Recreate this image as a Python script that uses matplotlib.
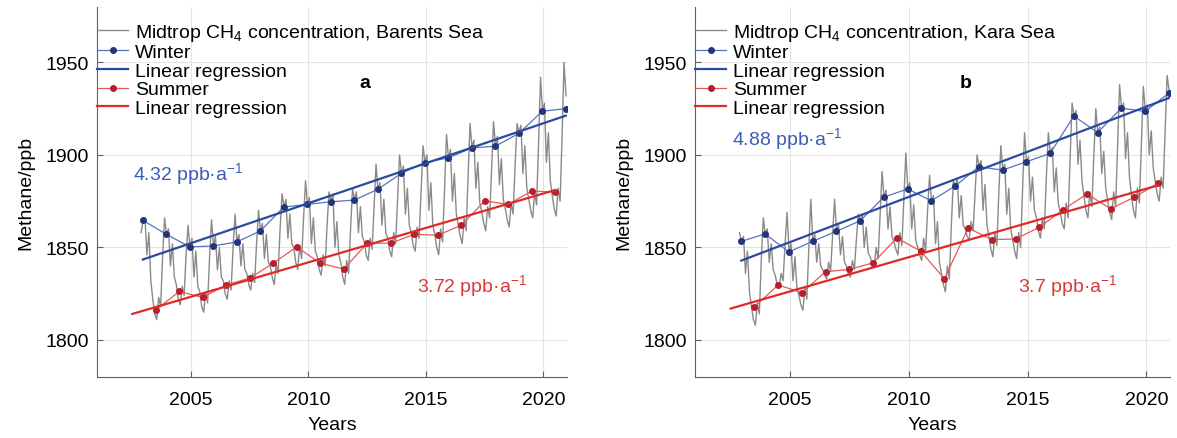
import matplotlib.pyplot as plt
import numpy as np

plt.rcParams['font.family'] = ['Liberation Sans', 'DejaVu Sans']
plt.rcParams['mathtext.fontset'] = 'custom'
plt.rcParams['mathtext.rm'] = 'Liberation Sans'
plt.rcParams['mathtext.it'] = 'Liberation Sans:italic'
plt.rcParams['font.size'] = 14

# Monthly midtroposphere CH4 (ppb), Nov 2002 - Dec 2020, one row per year
barents_monthly = [
    1858, 1864,
    1866, 1846, 1858, 1832, 1822, 1814, 1811, 1823, 1818, 1845, 1866, 1857,
    1860, 1840, 1852, 1834, 1830, 1822, 1819, 1829, 1824, 1846, 1862, 1850,
    1855, 1834, 1848, 1829, 1826, 1818, 1815, 1826, 1820, 1845, 1865, 1851,
    1856, 1838, 1850, 1834, 1832, 1825, 1822, 1832, 1827, 1850, 1868, 1853,
    1857, 1840, 1852, 1838, 1836, 1830, 1827, 1836, 1831, 1852, 1870, 1859,
    1863, 1844, 1857, 1842, 1840, 1834, 1830, 1841, 1836, 1860, 1879, 1872,
    1876, 1855, 1868, 1852, 1850, 1842, 1838, 1851, 1844, 1866, 1886, 1873,
    1877, 1852, 1866, 1848, 1845, 1838, 1835, 1846, 1840, 1862, 1880, 1875,
    1879, 1850, 1864, 1846, 1842, 1834, 1830, 1843, 1836, 1860, 1882, 1876,
    1880, 1858, 1872, 1856, 1853, 1846, 1843, 1855, 1849, 1872, 1895, 1881,
    1885, 1862, 1876, 1858, 1855, 1848, 1845, 1858, 1852, 1876, 1900, 1890,
    1894, 1868, 1882, 1862, 1858, 1851, 1848, 1861, 1855, 1880, 1905, 1896,
    1900, 1870, 1885, 1862, 1857, 1850, 1846, 1860, 1853, 1882, 1911, 1898,
    1903, 1875, 1890, 1868, 1862, 1856, 1852, 1866, 1859, 1888, 1917, 1904,
    1908, 1882, 1896, 1874, 1869, 1863, 1859, 1872, 1866, 1892, 1918, 1905,
    1910, 1884, 1898, 1876, 1871, 1865, 1861, 1874, 1868, 1894, 1917, 1912,
    1916, 1890, 1905, 1882, 1876, 1870, 1866, 1880, 1873, 1906, 1942, 1924,
    1928, 1896, 1912, 1886, 1878, 1871, 1867, 1882, 1875, 1910, 1950, 1932,
]
kara_monthly = [
    1858, 1853,
    1856, 1836, 1848, 1826, 1818, 1811, 1808, 1820, 1814, 1844, 1866, 1857,
    1860, 1842, 1852, 1838, 1835, 1830, 1828, 1836, 1832, 1852, 1869, 1848,
    1852, 1832, 1845, 1828, 1824, 1819, 1816, 1828, 1822, 1850, 1876, 1853,
    1857, 1842, 1852, 1840, 1838, 1835, 1833, 1842, 1837, 1856, 1876, 1859,
    1862, 1846, 1856, 1842, 1840, 1836, 1834, 1843, 1838, 1854, 1868, 1864,
    1868, 1850, 1861, 1847, 1845, 1841, 1839, 1850, 1844, 1868, 1891, 1877,
    1881, 1860, 1872, 1856, 1853, 1849, 1846, 1858, 1851, 1876, 1901, 1882,
    1885, 1860, 1873, 1854, 1850, 1846, 1843, 1855, 1848, 1870, 1889, 1875,
    1878, 1852, 1864, 1842, 1836, 1830, 1826, 1840, 1833, 1862, 1886, 1883,
    1887, 1866, 1878, 1862, 1860, 1856, 1854, 1864, 1859, 1880, 1900, 1894,
    1897, 1870, 1884, 1862, 1856, 1849, 1845, 1858, 1851, 1880, 1905, 1892,
    1895, 1868, 1882, 1860, 1854, 1848, 1844, 1858, 1850, 1882, 1912, 1896,
    1899, 1875, 1888, 1870, 1866, 1859, 1855, 1866, 1860, 1888, 1912, 1901,
    1904, 1880, 1893, 1874, 1869, 1863, 1860, 1874, 1866, 1898, 1928, 1921,
    1924, 1895, 1908, 1886, 1878, 1870, 1866, 1880, 1872, 1900, 1925, 1912,
    1915, 1890, 1902, 1882, 1875, 1869, 1865, 1880, 1872, 1905, 1938, 1925,
    1928, 1898, 1912, 1888, 1878, 1870, 1866, 1882, 1874, 1906, 1937, 1924,
    1927, 1900, 1913, 1893, 1886, 1879, 1875, 1888, 1882, 1912, 1943, 1935,
]

# Seasonal means: winter plotted in December, summer at mid-year
winter_years = list(range(2002, 2021))
summer_years = list(range(2003, 2021))

barents_winter = [1864.7, 1857.1, 1850.3, 1850.8, 1853.0, 1858.9, 1871.8,
                  1873.3, 1874.7, 1875.6, 1881.4, 1890.0, 1895.9, 1898.4,
                  1903.8, 1904.7, 1911.6, 1923.6, 1925.0]
barents_summer = [1816.2, 1826.2, 1823.0, 1829.8, 1833.4, 1841.5, 1850.3,
                  1841.5, 1838.3, 1852.3, 1852.3, 1857.1, 1856.6, 1862.0,
                  1875.1, 1873.3, 1880.5, 1879.9]
kara_winter = [1853.3, 1857.3, 1847.6, 1853.3, 1858.7, 1864.4, 1877.2,
               1881.6, 1875.2, 1883.2, 1893.6, 1891.8, 1896.3, 1900.8,
               1921.0, 1912.1, 1925.3, 1923.5, 1933.4]
kara_summer = [1817.9, 1829.7, 1825.6, 1836.9, 1838.1, 1841.7, 1855.1,
               1848.0, 1833.1, 1860.5, 1854.2, 1854.6, 1860.9, 1870.4,
               1878.9, 1870.9, 1877.2, 1884.7]

# Trend slopes, ppb per year
barents_trends = (4.32, 3.72)
kara_trends = (4.88, 3.7)

GRAY = '#8a8a8a'
WINTER_LINE = '#5573c4'
WINTER_DOT = '#22357a'
WINTER_FIT = '#2b4a9e'
SUMMER_LINE = '#e35a5a'
SUMMER_DOT = '#b81e2c'
SUMMER_FIT = '#e02a2a'


def trend_line(x, y, slope, x_ends):
    # least-squares intercept for a fixed slope
    x = np.asarray(x, float)
    y = np.asarray(y, float)
    b = y.mean() - slope * x.mean()
    xe = np.asarray(x_ends, float)
    return xe, b + slope * xe


def draw_panel(ax, monthly, winter, summer, trends, sea, tag):
    mx = 2002 + (10 + np.arange(len(monthly)) + 0.5) / 12
    wx = np.array(winter_years) + 0.95
    sx = np.array(summer_years) + 0.5
    w_slope, s_slope = trends

    ax.plot(mx, monthly, color=GRAY, lw=1.0,
            label=f'Midtrop CH$_4$ concentration, {sea}')
    ax.plot(wx, winter, '-o', color=WINTER_LINE, lw=0.9, ms=4,
            mfc=WINTER_DOT, mec=WINTER_DOT, label='Winter')
    fx, fy = trend_line(wx, winter, w_slope, [wx[0], wx[-1]])
    ax.plot(fx, fy, color=WINTER_FIT, lw=1.6, label='Linear regression')
    ax.plot(sx, summer, '-o', color=SUMMER_LINE, lw=0.9, ms=4,
            mfc=SUMMER_DOT, mec=SUMMER_DOT, label='Summer')
    fx, fy = trend_line(sx, summer, s_slope, [wx[0] - 0.45, sx[-1]])
    ax.plot(fx, fy, color=SUMMER_FIT, lw=1.6, label='Linear regression')

    ax.text(2002.55, 1890 if tag == 'a' else 1909,
            f'{w_slope:g} ppb·a$^{{-1}}$', color='#3b5db5', va='center')
    ax.text(2014.6, 1829.5, f'{s_slope:g} ppb·a$^{{-1}}$',
            color='#d83a3a', va='center')
    ax.text(2012.4, 1939, tag, fontweight='bold', ha='center', va='center')

    ax.set_xlim(2001, 2021)
    ax.set_ylim(1780, 1980)
    ax.set_xticks([2005, 2010, 2015, 2020])
    ax.set_yticks([1800, 1850, 1900, 1950])
    ax.set_xlabel('Years', labelpad=6)
    ax.set_ylabel('Methane/ppb', labelpad=8)
    ax.grid(color='#e4e4e4', lw=0.8)
    ax.set_axisbelow(True)
    for side in ('top', 'right'):
        ax.spines[side].set_visible(False)
    for side in ('left', 'bottom'):
        ax.spines[side].set_color('#606060')
    ax.tick_params(direction='in', length=4, color='#606060')
    ax.tick_params(axis='x', pad=10)
    ax.tick_params(axis='y', pad=6)

    ax.legend(loc='upper left', bbox_to_anchor=(0, 0.96), frameon=False,
              borderpad=0, borderaxespad=0, labelspacing=0.05,
              handlelength=1.6, handletextpad=0.35, fontsize=14)


fig = plt.figure(figsize=(11.77, 4.39), dpi=100)
ax_a = fig.add_axes([0.0824, 0.139, 0.3993, 0.843])
ax_b = fig.add_axes([0.5905, 0.139, 0.4036, 0.843])

draw_panel(ax_a, barents_monthly, barents_winter, barents_summer,
           barents_trends, 'Barents Sea', 'a')
draw_panel(ax_b, kara_monthly, kara_winter, kara_summer,
           kara_trends, 'Kara Sea', 'b')

fig.savefig('out.png', dpi=100)
